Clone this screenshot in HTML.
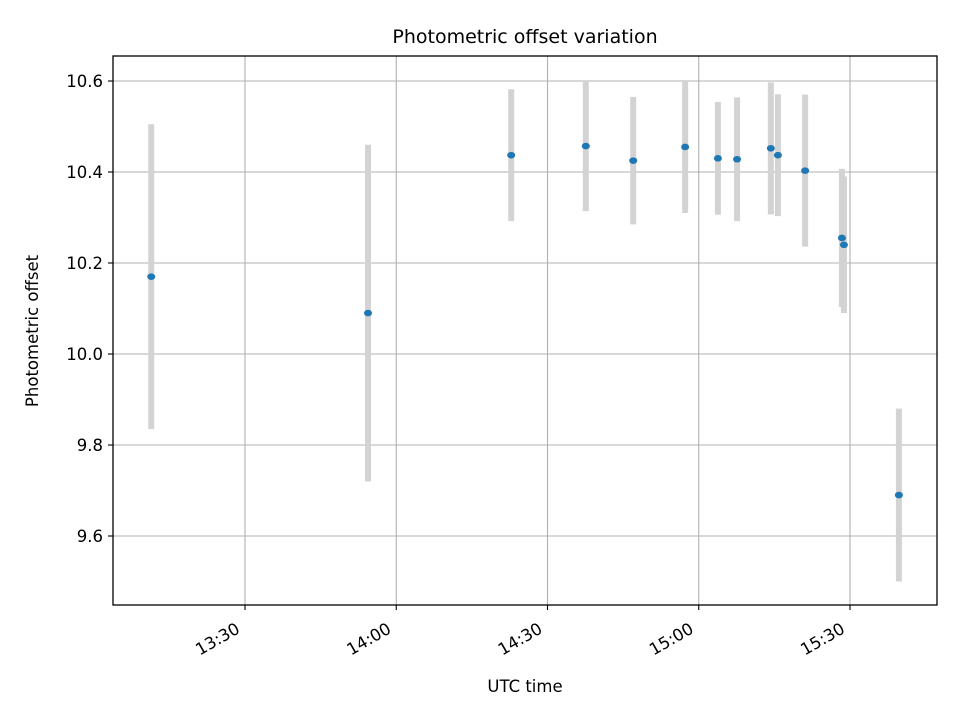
<!DOCTYPE html>
<html><head><meta charset="utf-8"><style>
body{margin:0;background:#fff}
svg{display:block;font-family:"DejaVu Sans","Liberation Sans",sans-serif}
</style></head><body>
<svg id="chart" width="960" height="720">
<rect x="0" y="0" width="960" height="720" fill="#fff"/>
<g id="grid"></g>
<g id="errs"></g>
<g id="pts"></g>
<rect x="113" y="56" width="824" height="549" fill="none" stroke="#000" stroke-width="1.3"/>
<g id="ticks"></g>
<text x="525" y="43" text-anchor="middle" font-size="19">Photometric offset variation</text>
<text x="525" y="692" text-anchor="middle" font-size="16.5">UTC time</text>
<text transform="translate(38,331) rotate(-90)" text-anchor="middle" font-size="16.5">Photometric offset</text>
</svg>
<script>
// times in minutes after 13:00 UTC
const times=[11.4,54.4,82.8,97.6,107,117.3,123.8,127.6,134.3,135.7,141.1,148.4,148.8,159.7];
const offsets=[10.17,10.09,10.437,10.457,10.425,10.455,10.43,10.428,10.452,10.437,10.403,10.255,10.24,9.69];
const errors=[0.335,0.37,0.145,0.143,0.14,0.145,0.124,0.136,0.145,0.134,0.167,0.152,0.15,0.19];
const yTicks=[9.6,9.8,10.0,10.2,10.4,10.6];
const xTickMins=[30,60,90,120,150];
const xTickLabels=["13:30","14:00","14:30","15:00","15:30"];
const NS="http://www.w3.org/2000/svg";
function xs(t){return 245+(t-30)*151.25/30;}
function ys(v){return 81+(10.6-v)*455;}
function mk(tag,attrs,parent){const e=document.createElementNS(NS,tag);for(const k in attrs)e.setAttribute(k,attrs[k]);parent.appendChild(e);return e;}
const grid=document.getElementById('grid'),ticks=document.getElementById('ticks');
yTicks.forEach(v=>{const y=ys(v);
 const g=mk('line',{x1:113,x2:937,y1:y,y2:y,stroke:'#b0b0b0','stroke-width':1.1},grid);
 
 
 const t=mk('line',{x1:108,x2:113,y1:y,y2:y,stroke:'#000','stroke-width':1.1},ticks);
 
 
 const l=mk('text',{x:103,y:y+6,'text-anchor':'end','font-size':16.5},ticks);
 l.textContent=v.toFixed(1);
 
 
});
xTickMins.forEach((m,i)=>{const x=xs(m);
 const g=mk('line',{x1:x,x2:x,y1:56,y2:605,stroke:'#b0b0b0','stroke-width':1.1},grid);
 
 
 const t=mk('line',{x1:x,x2:x,y1:605,y2:610,stroke:'#000','stroke-width':1.1},ticks);
 
 
 const l=mk('text',{transform:`translate(${x-4},632) rotate(-30)`,'text-anchor':'end','font-size':16.5},ticks);
 l.textContent=xTickLabels[i];
 
 
});
const errs=document.getElementById('errs'),pts=document.getElementById('pts');
times.forEach((t,i)=>{const x=xs(t);
 const e=mk('line',{x1:x,x2:x,y1:ys(offsets[i]+errors[i]),y2:ys(offsets[i]-errors[i]),stroke:'#d3d3d3','stroke-width':6},errs);
 
 
 const c=mk('ellipse',{cx:x,cy:ys(offsets[i]),rx:4,ry:3.3,fill:'#1f77b4'},pts);
 
 
});
</script>
</body></html>
